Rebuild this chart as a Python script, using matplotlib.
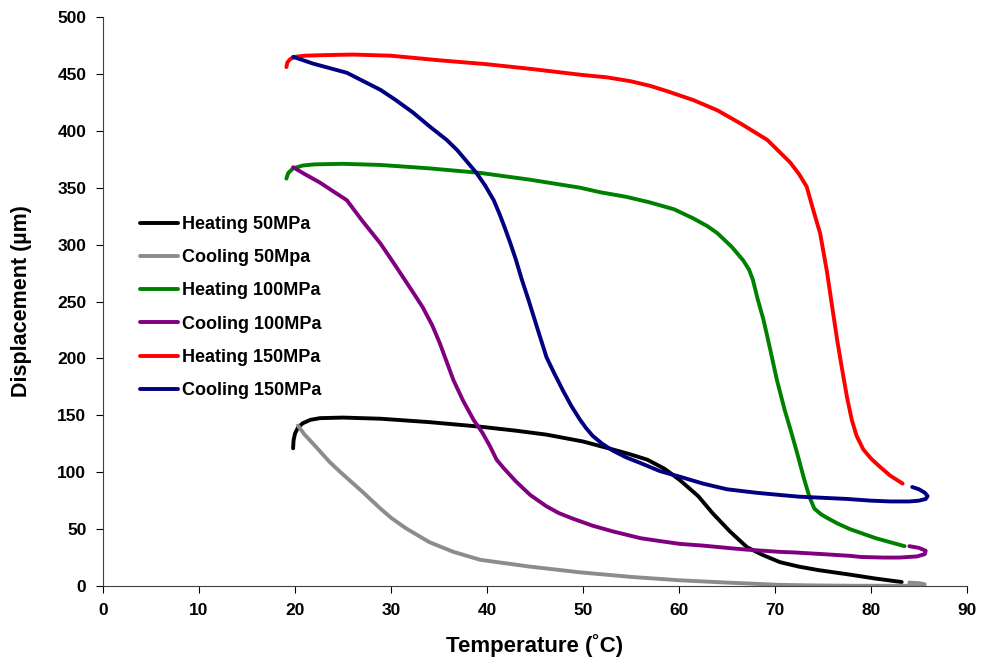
import matplotlib.pyplot as plt

plt.rcParams['font.family'] = ['Liberation Sans', 'DejaVu Sans']
plt.rcParams['font.weight'] = 'bold'

# Heating 50MPa
heat50_T = [19.8, 19.85, 20.0, 20.3, 20.8, 21.6, 22.6, 25.0, 28.9, 34.0, 39.3, 43.0,
            46.2, 50.0, 53.1, 55.0, 56.7, 58.5, 60.1, 62.0, 63.5, 65.3, 67.1, 68.8,
            70.5, 72.5, 74.5, 77.8, 80.5, 83.2]
heat50_D = [121, 128, 134, 139, 143, 146, 147.5, 148, 147, 144, 140, 136.5,
            133, 127, 120, 115.5, 111, 103, 93, 79, 64, 48, 34, 27,
            21, 17, 14, 10, 6.5, 3.5]
# Cooling 50MPa
cool50_T = [84.0, 85.0, 85.6, 85.5, 84.5, 82.0, 78.0, 74.0, 70.5, 65.0, 60.1, 55.0,
            49.7, 44.5, 39.3, 36.5, 34.0, 32.5, 31.5, 30.0, 28.9, 27.0, 25.0, 23.6,
            22.0, 21.0, 20.3]
cool50_D = [3.0, 2.5, 1.5, 0.5, 0.2, 0.2, 0.2, 0.5, 1.0, 3.0, 5.0, 8.0,
            12, 17, 23, 30, 38.5, 46, 51, 60, 68, 83, 98, 109,
            124, 133, 141]
# Heating 100MPa
heat100_T = [19.1, 19.3, 19.8, 20.8, 22.0, 25.0, 28.9, 34.0, 39.3, 44.5, 49.7, 51.8,
             54.5, 57.0, 59.5, 61.5, 63.0, 64.0, 65.5, 66.7, 67.3, 67.7, 68.2, 68.8,
             69.5, 70.2, 71.0, 71.7, 72.3, 73.0, 73.6, 74.1, 74.8, 75.4, 76.5, 77.8,
             80.5, 83.5]
heat100_D = [358, 363, 367, 369.5, 370.5, 371, 370, 367, 363, 357, 350, 346,
             342, 337, 331, 323, 316, 310, 298, 286, 278, 269, 252, 234,
             208, 181, 155, 135, 117, 95, 78, 68, 63, 60, 55, 50,
             42, 35]
# Cooling 100MPa
cool100_T = [84.0, 85.0, 85.7, 85.6, 84.8, 83.0, 81.3, 79.0, 77.8, 75.0, 72.0, 70.5,
             67.0, 65.0, 62.5, 60.1, 58.0, 56.0, 53.1, 51.0, 49.0, 47.5, 46.2, 44.5,
             43.0, 41.8, 41.0, 40.3, 39.5, 38.6, 37.5, 36.5, 35.8, 35.1, 34.3, 33.3,
             32.3, 30.5, 28.9, 27.0, 25.4, 22.5, 21.0, 19.8]
cool100_D = [35, 33.5, 31, 28, 26, 25, 25, 25.5, 26.5, 28, 29.5, 30,
             32, 33.5, 35.5, 37, 39.5, 42, 48, 53, 59, 64, 70, 80,
             92, 103, 111, 123, 135, 146, 163, 181, 197, 213, 229, 245,
             258, 281, 301, 321, 339, 355, 362, 368]
# Heating 150MPa
heat150_T = [19.1, 19.2, 19.5, 20.0, 21.0, 23.0, 26.0, 30.0, 35.0, 40.0, 45.0, 50.0,
             52.5, 55.0, 57.0, 58.7, 61.5, 64.0, 66.5, 69.2, 71.6, 72.5, 73.3, 74.0,
             74.7, 75.4, 76.0, 76.5, 77.0, 77.5, 78.0, 78.5, 79.2, 80.0, 80.9, 82.0,
             83.3]
heat150_D = [456, 460, 463, 465, 466, 466.5, 467, 466, 462, 458.5, 454, 449,
             447, 443.5, 439.5, 435, 427, 418, 406, 392, 372, 362, 351, 330,
             310, 277, 243, 215, 190, 166, 146, 132, 120, 112, 105, 97,
             90]
# Cooling 150MPa
cool150_T = [84.3, 85.0, 85.6, 85.9, 85.7, 85.0, 84.0, 82.0, 80.0, 77.5, 75.0, 72.5,
             70.5, 68.0, 65.0, 62.5, 60.1, 58.0, 56.0, 54.5, 53.1, 52.0, 51.0, 50.3,
             49.7, 48.8, 47.9, 47.0, 46.2, 45.3, 44.3, 43.6, 43.0, 42.4, 41.8, 41.3,
             40.7, 39.8, 38.9, 36.9, 35.8, 34.0, 32.3, 30.5, 28.9, 25.4, 21.9, 19.8]
cool150_D = [87, 85, 82, 79, 76.5, 75, 74.3, 74.3, 75, 76.5, 77.5, 78.5,
             80, 82, 85, 90, 96, 101, 108, 113, 119, 125, 132, 139,
             146, 158, 172, 187, 201, 225, 252, 270, 287, 302, 316, 327,
             339, 352, 363, 383, 392, 404, 416, 427, 436, 451, 459, 465]

series = [
    ('Heating 50MPa', heat50_T, heat50_D, '#000000'),
    ('Cooling 50Mpa', cool50_T, cool50_D, '#8c8c8c'),
    ('Heating 100MPa', heat100_T, heat100_D, '#008000'),
    ('Cooling 100MPa', cool100_T, cool100_D, '#800080'),
    ('Heating 150MPa', heat150_T, heat150_D, '#ff0000'),
    ('Cooling 150MPa', cool150_T, cool150_D, '#000080'),
]

fig = plt.figure(figsize=(9.83, 6.62), dpi=100)
ax = fig.add_axes([0.1048, 0.1148, 0.8789, 0.8595])

for label, t, d, c in series:
    ax.plot(t, d, color=c, lw=2.8, label=label, solid_capstyle='round',
            solid_joinstyle='round')

ax.set_xlim(0, 90)
ax.set_ylim(0, 500)
ax.set_xticks(range(0, 91, 10))
ax.set_yticks(range(0, 501, 50))
ax.tick_params(direction='out', length=5, width=0.8, labelsize=12.5, pad=7)
for lbl in ax.get_xticklabels() + ax.get_yticklabels():
    lbl.set_fontweight('bold')
for s in ['top', 'right']:
    ax.spines[s].set_visible(False)
for s in ['left', 'bottom']:
    ax.spines[s].set_color('#404040')
    ax.spines[s].set_linewidth(0.8)

ax.set_xlabel('Temperature (˚C)', fontsize=16, fontweight='bold', labelpad=12)
ax.set_ylabel('Displacement (µm)', fontsize=15.5, fontweight='bold', labelpad=18)

ax.legend(loc='upper left', bbox_to_anchor=(0.035, 0.663), frameon=False,
          prop={'size': 13, 'weight': 'bold'}, handlelength=2.1,
          handletextpad=0.2, labelspacing=0.9, borderaxespad=0)

fig.savefig('out.png', dpi=100)
